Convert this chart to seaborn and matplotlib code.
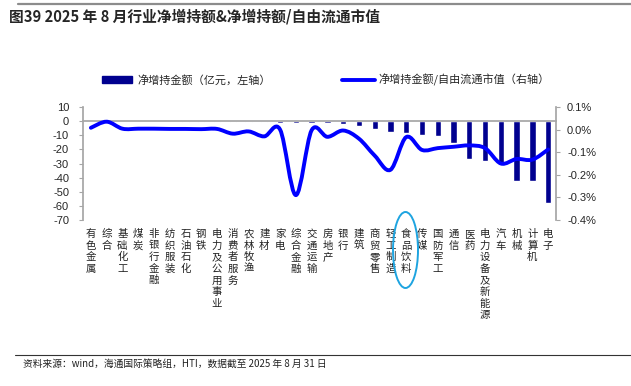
import numpy as np
import pandas as pd
import matplotlib
matplotlib.use("Agg")
import matplotlib.pyplot as plt
import matplotlib.transforms as mtransforms
from matplotlib.path import Path
from matplotlib.patches import PathPatch, Patch, Ellipse
from matplotlib.lines import Line2D
import seaborn as sns

industries = ["有色金属", "综合", "基础化工", "煤炭", "非银行金融", "纺织服装", "石油石化", "钢铁",
              "电力及公用事业", "消费者服务", "农林牧渔", "建材", "家电", "综合金融", "交通运输",
              "房地产", "银行", "建筑", "商贸零售", "轻工制造", "食品饮料", "传媒", "国防军工",
              "通信", "医药", "电力设备及新能源", "汽车", "机械", "计算机", "电子"]
net_amount = [0.8, 0.1, -0.1, -0.1, -0.2, -0.2, -0.3, -0.3, -0.4, -0.5, -0.6, -0.8, -1.1, -1.3,
              -1.5, -1.6, -1.8, -3.6, -5.9, -7.7, -8.3, -9.9, -10.6, -15.3, -27.0, -28.5, -31.1,
              -42.1, -42.6, -58.3]
ratio_pct = [0.008, 0.035, 0.004, 0.004, 0.004, 0.003, 0.003, 0.002, 0.003, -0.018, -0.008,
             -0.030, 0.000, -0.290, -0.003, -0.032, -0.004, -0.040, -0.115, -0.178, -0.033,
             -0.090, -0.082, -0.076, -0.070, -0.082, -0.150, -0.130, -0.133, -0.088]
left_ticks = [10, 0, -10, -20, -30, -40, -50, -60, -70]
right_ticks = [0.1, 0.0, -0.1, -0.2, -0.3, -0.4]

title = "图39 2025 年 8 月行业净增持额&净增持额/自由流通市值"
legend1 = "净增持金额（亿元，左轴）"
legend2 = "净增持金额/自由流通市值（右轴）"
source = "资料来源：wind，海通国际策略组，HTI，数据截至 2025 年 8 月 31 日"

sns.set_theme(style="white")
plt.rcParams['font.family'] = ['Liberation Sans', 'Noto Sans CJK SC', 'DejaVu Sans']
CJK = ['Noto Sans CJK SC', 'DejaVu Sans']

BAR = '#00008F'
LINE = '#0000FF'
SPINE = '#A6A6A6'

W, H = 631, 386
fig = plt.figure(figsize=(W / 100, H / 100), dpi=100)
ax = fig.add_axes([83 / W, 1 - 220 / H, (556 - 83) / W, (220 - 107) / H])

df = pd.DataFrame({"industry": industries, "net": net_amount})
sns.barplot(data=df, x="industry", y="net", color=BAR, saturation=1, width=0.4, ax=ax)
ax.set_xlim(-0.5, len(industries) - 0.5)
ax.set_ylim(-70, 10)
ax.set_yticks(left_ticks)
ax.set_yticklabels([str(t) for t in left_ticks], fontsize=8)
ax.set_xlabel("")
ax.set_ylabel("")

for s in ['top', 'right']:
    ax.spines[s].set_visible(False)
ax.spines['left'].set_color(SPINE)
ax.spines['bottom'].set_color(SPINE)
ax.spines['bottom'].set_position(('data', 0))
ax.set_xticks(np.arange(-0.5, len(industries), 1.0))
ax.set_xticklabels([])
ax.tick_params(axis='x', direction='out', length=3, color=SPINE, width=0.8)
ax.tick_params(axis='y', direction='out', length=3, color=SPINE, width=0.8, pad=7, left=True)

trans = mtransforms.blended_transform_factory(ax.transData, ax.transAxes)
for i, name in enumerate(industries):
    ax.text(i, -9 / 113, "\n".join(name), transform=trans, ha='center', va='top',
            fontsize=7.5, family=CJK, linespacing=1.2, color='#222222')

ax2 = ax.twinx()
ax2.set_ylim(-0.4, 0.1)
ax2.set_yticks(right_ticks)
ax2.set_yticklabels([f"{t:.1f}%" for t in right_ticks], fontsize=8)
for s in ['top', 'left', 'bottom']:
    ax2.spines[s].set_visible(False)
ax2.spines['right'].set_color(SPINE)
ax2.tick_params(axis='y', direction='out', length=3, color=SPINE, width=0.8, pad=5, right=True)

# smoothed line (Catmull-Rom style Bezier through the data points)
xs = np.arange(len(ratio_pct), dtype=float)
ys = np.array(ratio_pct, dtype=float)
n = len(xs)
verts = [(xs[0], ys[0])]
codes = [Path.MOVETO]
for i in range(n - 1):
    p0 = i - 1 if i > 0 else i
    p3 = i + 2 if i + 2 < n else i + 1
    c1 = (xs[i] + (xs[i + 1] - xs[p0]) / 6, ys[i] + (ys[i + 1] - ys[p0]) / 6)
    c2 = (xs[i + 1] - (xs[p3] - xs[i]) / 6, ys[i + 1] - (ys[p3] - ys[i]) / 6)
    verts += [c1, c2, (xs[i + 1], ys[i + 1])]
    codes += [Path.CURVE4] * 3
ax2.add_patch(PathPatch(Path(verts, codes), fill=False, edgecolor=LINE, lw=2.8,
                        capstyle='round', joinstyle='round'))

# legends
h1 = Patch(facecolor=BAR, edgecolor=BAR)
fig.legend([h1], [legend1], loc='center left', bbox_to_anchor=(92 / W, 1 - 80 / H),
           frameon=False, prop={'family': CJK, 'size': 8}, handlelength=2.7,
           handleheight=0.5, handletextpad=0.45)
h2 = Line2D([], [], color=LINE, lw=2.8)
fig.legend([h2], [legend2], loc='center left', bbox_to_anchor=(332 / W, 1 - 80 / H),
           frameon=False, prop={'family': CJK, 'size': 8}, handlelength=3.0,
           handletextpad=0.3)

# title and frame lines
fig.add_artist(Line2D([18 / W, 1], [1 - 4 / H, 1 - 4 / H], color='#8C8C8C', lw=1.6))
fig.text(9 / W, 1 - 16 / H, title, fontsize=10.6, fontweight='bold', family=CJK,
         va='center', ha='left')
fig.add_artist(Line2D([15 / W, 1], [1 - 355 / H, 1 - 355 / H], color='#333333', lw=0.8))
fig.text(23 / W, 1 - 364 / H, source, fontsize=7, family=CJK, va='center', ha='left',
         color='#222222')

# highlight ellipse around 食品饮料
fig.add_artist(Ellipse((405.5 / W, 1 - 250 / H), 25 / W, 76 / H, transform=fig.transFigure,
                       fill=False, edgecolor='#1EA4E0', lw=1.4))

fig.savefig("out.png", dpi=100)
